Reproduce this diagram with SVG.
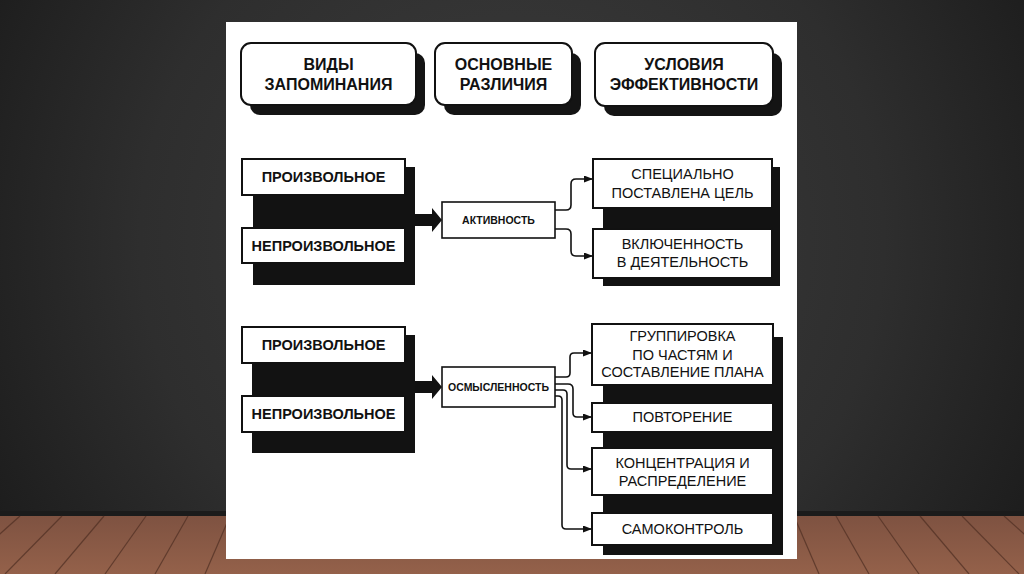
<svg xmlns="http://www.w3.org/2000/svg" width="1024" height="574" viewBox="0 0 1024 574">
<defs>
<radialGradient id="wall" cx="512" cy="240" r="620" gradientUnits="userSpaceOnUse">
<stop offset="0" stop-color="#3d3d3d"/>
<stop offset="0.6" stop-color="#2e2e2e"/>
<stop offset="1" stop-color="#1a1a1a"/>
</radialGradient>
<linearGradient id="floor" x1="0" y1="515" x2="0" y2="574" gradientUnits="userSpaceOnUse">
<stop offset="0" stop-color="#7e5241"/>
<stop offset="1" stop-color="#94614a"/>
</linearGradient>
<marker id="ah" markerUnits="userSpaceOnUse" markerWidth="9" markerHeight="7" refX="9" refY="3.5" orient="auto">
<path d="M0,0 L9,3.5 L0,7 z" fill="#111"/>
</marker>
<style>
.hdr{fill:#fff;stroke:#111;stroke-width:2}
.hsh{fill:#141414}
.box{fill:#fff;stroke:#111;stroke-width:2}
.mid{fill:#fff;stroke:#111;stroke-width:1.6}
.sh{fill:#121212}
.ht{font-family:"Liberation Sans",Arial,sans-serif;font-weight:bold;font-size:16px;fill:#111;text-anchor:middle}
.lt{font-family:"Liberation Sans",Arial,sans-serif;font-weight:bold;font-size:14.5px;fill:#111;text-anchor:middle}
.mt{font-family:"Liberation Sans",Arial,sans-serif;font-weight:bold;font-size:10.5px;fill:#111;text-anchor:middle}
.rt{font-family:"Liberation Sans",Arial,sans-serif;font-size:14.5px;fill:#111;text-anchor:middle}
.con{fill:none;stroke:#111;stroke-width:1.6;marker-end:url(#ah)}
.plank{stroke:#4e2e22;stroke-width:1.2;opacity:0.7}
</style>
</defs>

<!-- background scene -->
<rect x="0" y="0" width="1024" height="574" fill="url(#wall)"/>
<rect x="0" y="515" width="1024" height="59" fill="url(#floor)"/>
<rect x="0" y="511" width="1024" height="5" fill="#1b1b1b"/>
<g class="plank">
<line x1="20" y1="516" x2="-45" y2="574"/>
<line x1="62" y1="516" x2="5" y2="574"/>
<line x1="104" y1="516" x2="55" y2="574"/>
<line x1="146" y1="516" x2="105" y2="574"/>
<line x1="188" y1="516" x2="155" y2="574"/>
<line x1="230" y1="516" x2="205" y2="574"/>
<line x1="794" y1="516" x2="819" y2="574"/>
<line x1="836" y1="516" x2="869" y2="574"/>
<line x1="878" y1="516" x2="919" y2="574"/>
<line x1="920" y1="516" x2="969" y2="574"/>
<line x1="962" y1="516" x2="1019" y2="574"/>
<line x1="1004" y1="516" x2="1069" y2="574"/>
</g>

<!-- white panel -->
<rect x="226" y="22" width="571" height="537" fill="#fff"/>

<!-- headers -->
<g id="hdr-vidy">
<rect class="hsh" x="250" y="53" width="175" height="62" rx="10"/>
<rect class="hdr" x="241" y="43" width="175" height="62" rx="10"/>
<text class="ht" x="328.5" y="70">ВИДЫ</text>
<text class="ht" x="328.5" y="90">ЗАПОМИНАНИЯ</text>
</g>
<g id="hdr-osnovnye">
<rect class="hsh" x="444" y="53" width="137" height="62" rx="10"/>
<rect class="hdr" x="435" y="43" width="137" height="62" rx="10"/>
<text class="ht" x="503.5" y="70">ОСНОВНЫЕ</text>
<text class="ht" x="503.5" y="90">РАЗЛИЧИЯ</text>
</g>
<g id="hdr-usloviya">
<rect class="hsh" x="604" y="53" width="178" height="63" rx="10"/>
<rect class="hdr" x="595" y="43" width="178" height="63" rx="10"/>
<text class="ht" x="684" y="70">УСЛОВИЯ</text>
<text class="ht" x="684" y="90">ЭФФЕКТИВНОСТИ</text>
</g>

<!-- block 1 left -->
<g id="left1">
<rect class="sh" x="253" y="167" width="162" height="118"/>
<path d="M415,214 H432 V208 L442,220 L432,232 V226 H415 z" fill="#111"/>
<rect class="box" x="242" y="159" width="163" height="36"/>
<text class="lt" x="323.5" y="182">ПРОИЗВОЛЬНОЕ</text>
<rect class="box" x="242" y="228" width="163" height="35"/>
<text class="lt" x="323.5" y="251">НЕПРОИЗВОЛЬНОЕ</text>
</g>
<g id="aktivnost">
<rect class="mid" x="442" y="202" width="113" height="36"/>
<text class="mt" x="498.5" y="224">АКТИВНОСТЬ</text>
</g>
<g id="right1">
<rect class="sh" x="603" y="167" width="177" height="119"/>
<rect class="box" x="593" y="159" width="179" height="49"/>
<text class="rt" x="682.5" y="179">СПЕЦИАЛЬНО</text>
<text class="rt" x="682.5" y="198">ПОСТАВЛЕНА ЦЕЛЬ</text>
<rect class="box" x="593" y="229" width="179" height="49"/>
<text class="rt" x="682.5" y="249">ВКЛЮЧЕННОСТЬ</text>
<text class="rt" x="682.5" y="267">В ДЕЯТЕЛЬНОСТЬ</text>
</g>

<!-- block 2 left -->
<g id="left2">
<rect class="sh" x="252" y="335" width="163" height="118"/>
<path d="M415,381 H432 V375 L442,387 L432,399 V393 H415 z" fill="#111"/>
<rect class="box" x="242" y="327" width="163" height="36"/>
<text class="lt" x="323.5" y="350">ПРОИЗВОЛЬНОЕ</text>
<rect class="box" x="242" y="396" width="163" height="36"/>
<text class="lt" x="323.5" y="419">НЕПРОИЗВОЛЬНОЕ</text>
</g>
<g id="osmyslennost">
<rect class="mid" x="442" y="367" width="113" height="40"/>
<text class="mt" x="498.5" y="391">ОСМЫСЛЕННОСТЬ</text>
</g>
<g id="right2">
<rect class="sh" x="603" y="337" width="180" height="218"/>
<rect class="box" x="592" y="324" width="181" height="61"/>
<text class="rt" x="682.5" y="341">ГРУППИРОВКА</text>
<text class="rt" x="682.5" y="360">ПО ЧАСТЯМ И</text>
<text class="rt" x="682.5" y="377">СОСТАВЛЕНИЕ ПЛАНА</text>
<rect class="box" x="592" y="403" width="181" height="29"/>
<text class="rt" x="682.5" y="422">ПОВТОРЕНИЕ</text>
<rect class="box" x="592" y="448" width="181" height="47"/>
<text class="rt" x="682.5" y="468">КОНЦЕНТРАЦИЯ И</text>
<text class="rt" x="682.5" y="486">РАСПРЕДЕЛЕНИЕ</text>
<rect class="box" x="592" y="513" width="181" height="32"/>
<text class="rt" x="682.5" y="534">САМОКОНТРОЛЬ</text>
</g>

<!-- connectors -->
<g id="connectors">
<path class="con" d="M555,210 H566 Q571,210 571,205 V184 Q571,179 576,179 H593"/>
<path class="con" d="M555,229 H566 Q571,229 571,234 V251 Q571,256 576,256 H593"/>
<path class="con" d="M555,377 H566 Q570,377 570,373 V357 Q570,353 574,353 H592"/>
<path class="con" d="M555,384 H568 Q573,384 573,389 V413 Q573,417 577,417 H592"/>
<path class="con" d="M555,390 H563 Q567,390 567,394 V465 Q567,469 571,469 H592"/>
<path class="con" d="M555,396 H558 Q562,396 562,400 V525 Q562,529 566,529 H592"/>
</g>
</svg>
